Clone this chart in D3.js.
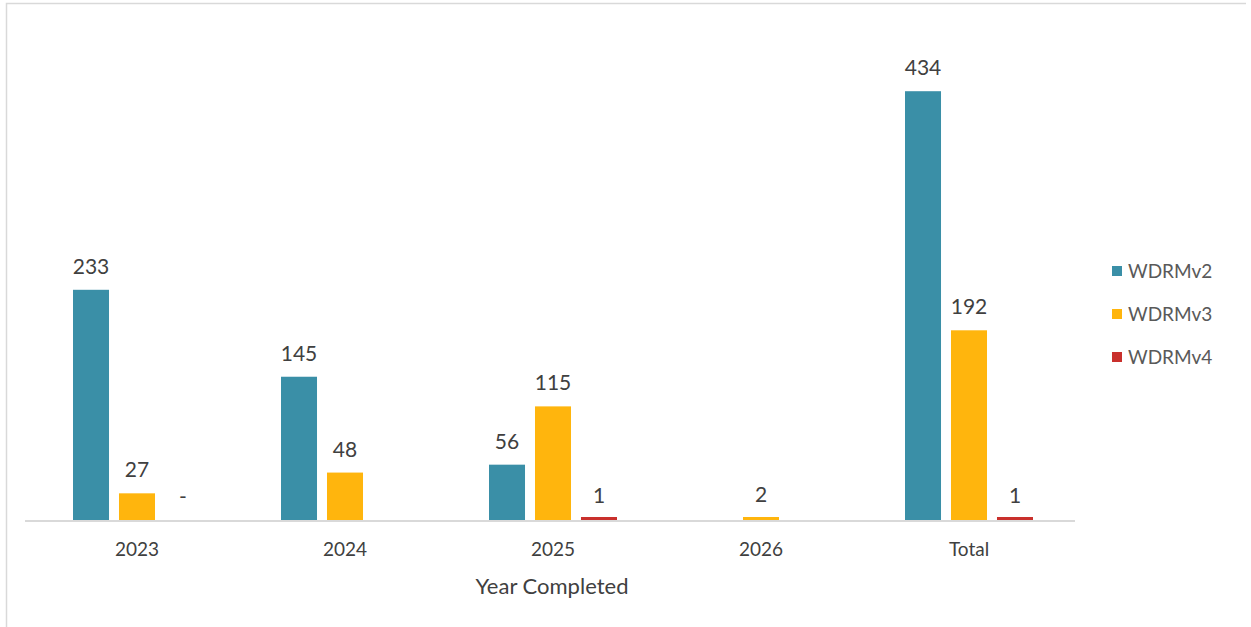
<!DOCTYPE html>
<html>
<head>
<meta charset="utf-8">
<script src="https://cdn.jsdelivr.net/npm/d3@7"></script>
<style>
  body { margin: 0; background: #fff; }
  text { font-family: Lato, "Open Sans", sans-serif; }
</style>
</head>
<body>
<div id="chart"></div>
<script>
const categories = ["2023", "2024", "2025", "2026", "Total"];
const seriesNames = ["WDRMv2", "WDRMv3", "WDRMv4"];
const wdrmv2 = [233, 145, 56, 0, 434];
const wdrmv3 = [27, 48, 115, 2, 192];
const wdrmv4 = [0, 0, 1, 0, 1];
const colors = ["#3a8fa7", "#ffb50d", "#c9302c"];
// labels shown above each bar (null = no label)
const labels2 = ["233", "145", "56", null, "434"];
const labels3 = ["27", "48", "115", "2", "192"];
const labels4 = ["-", null, "1", null, "1"];

function main() {
    const width = 1251;
    const height = 627;
    const svg = d3.select("#chart")
        .append("svg")
        .attr("width", width)
        .attr("height", height)

    // frame lines (top + left)
    svg.append("path")
        .attr("d", "M6.5,627 V3.5 H1246")
        .attr("fill", "none")
        .attr("stroke", "#d9d9d9")
        .attr("stroke-width", 1.5)

    const series = [wdrmv2, wdrmv3, wdrmv4];
    const labels = [labels2, labels3, labels4];

    const x = d3.scaleBand().domain(categories).range([33, 1073]).paddingInner(0).paddingOuter(0);
    const inner = d3.scaleBand().domain(seriesNames).range([-64, 64]).paddingInner(0.217).paddingOuter(0);
    const y = d3.scaleLinear().domain([0, 500]).range([520, 26]);

    // tiny non-zero values still show as a thin line
    const barH = v => v > 0 ? Math.max(y(0) - y(v), 3) : 0;

    const groups = svg.append("g")
        .selectAll("g")
        .data(categories)
        .join("g")
        .attr("transform", d => `translate(${x(d) + x.bandwidth() / 2},0)`)

    seriesNames.forEach((s, si) => {
        groups.append("rect")
            .attr("x", inner(s))
            .attr("width", inner.bandwidth())
            .attr("y", (d, i) => y(0) - barH(series[si][i]))
            .attr("height", (d, i) => barH(series[si][i]))
            .attr("fill", colors[si])

        groups.append("text")
            .attr("x", inner(s) + inner.bandwidth() / 2)
            .attr("y", (d, i) => y(series[si][i]) - 16)
            .attr("text-anchor", "middle")
            .attr("font-size", 21)
            .attr("fill", "#404040")
            .text((d, i) => labels[si][i] || "")
    });

    // x axis
    const xAxis = svg.append("g")
        .attr("transform", `translate(0,${y(0) + 1})`)
        .call(d3.axisBottom(x).tickSize(0).tickPadding(22))
    xAxis.select(".domain")
        .attr("d", "M25,0 H1075")
        .attr("stroke", "#d9d9d9")
        .attr("stroke-width", 2)
    xAxis.selectAll(".tick text")
        .attr("font-size", 19)
        .attr("fill", "#404040")
        .style("font-family", "Lato, sans-serif")

    svg.append("text")
        .attr("x", 552)
        .attr("y", 594)
        .attr("text-anchor", "middle")
        .attr("font-size", 22)
        .attr("fill", "#404040")
        .text("Year Completed")

    // legend
    const legend = svg.append("g")
        .selectAll("g")
        .data(seriesNames)
        .join("g")
        .attr("transform", (d, i) => `translate(1112,${271 + i * 43})`)
    legend.append("rect")
        .attr("x", 0).attr("y", -5)
        .attr("width", 10).attr("height", 10)
        .attr("fill", (d, i) => colors[i])
    legend.append("text")
        .attr("x", 16)
        .attr("y", 7)
        .attr("font-size", 19)
        .attr("fill", "#595959")
        .text(d => d)
}
main();
</script>
</body>
</html>
